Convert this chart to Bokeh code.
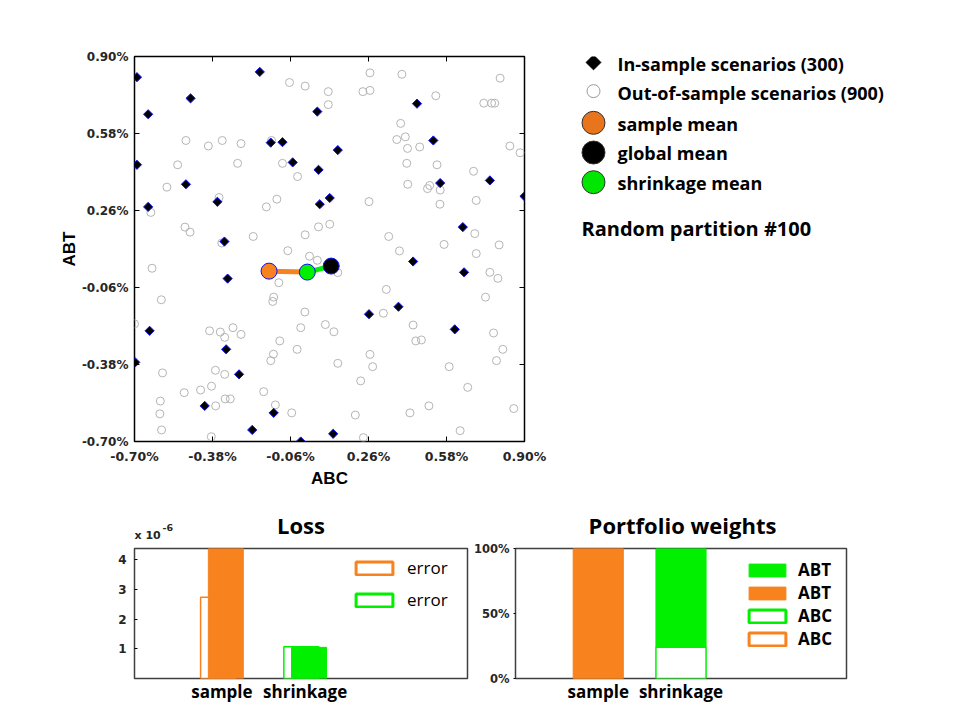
import math
from bokeh.plotting import figure
from bokeh.layouts import column, row
from bokeh.models import (FixedTicker, PrintfTickFormatter, NumeralTickFormatter, LinearAxis,
                          Legend, LegendItem, Range1d, ColumnDataSource)
from bokeh.embed import file_html
from bokeh.resources import INLINE
from bokeh.core.properties import value

# ---------------- data ----------------
ins_abc = [-0.690, -0.186, -0.470, -0.644, 0.050, -0.141, -0.093, -0.690, -0.051, 0.055,
           -0.489, -0.644, -0.360, 0.060, -0.331, 0.459, 0.134, 0.526, 0.101, 0.554,
           0.758, 0.900, 0.647, -0.318, -0.638, -0.324, -0.697, -0.271, -0.412, -0.129,
           -0.217, -0.018, 0.443, 0.652, 0.383, 0.262, 0.614, 0.115]
ins_abt = [0.814, 0.836, 0.726, 0.660, 0.671, 0.542, 0.544, 0.450, 0.460, 0.429,
           0.369, 0.275, 0.296, 0.286, 0.131, 0.704, 0.511, 0.551, 0.312, 0.374,
           0.385, 0.319, 0.191, -0.023, -0.240, -0.317, -0.371, -0.421, -0.552, -0.581,
           -0.652, -0.700, 0.048, 0.003, -0.140, -0.171, -0.234, -0.668]

oos_abc = [-0.064, 0.000, 0.095, 0.095, -0.489, -0.397, -0.340, -0.263, -0.138, -0.523,
           -0.277, -0.093, -0.031, -0.567, -0.353, -0.159, -0.116, -0.633, -0.493, -0.472,
           -0.213, 0.000, 0.055, -0.342, -0.071, 0.266, 0.397, 0.800, 0.237, 0.266,
           0.536, 0.733, 0.765, 0.778, 0.392, 0.376, 0.411, 0.420, 0.470, 0.840,
           0.882, 0.417, 0.541, 0.691, 0.421, 0.502, 0.511, 0.554, 0.262, 0.553,
           0.702, 0.101, 0.343, 0.570, 0.696, 0.796, 0.387, 0.018, 0.050, -0.628,
           -0.108, -0.590, -0.129, -0.133, -0.001, -0.700, 0.083, -0.392, -0.348, -0.296,
           -0.330, -0.263, -0.018, -0.104, -0.033, -0.130, -0.141, -0.585, -0.368, -0.330,
           -0.429, -0.384, -0.496, -0.170, -0.594, -0.328, -0.307, -0.367, -0.122, -0.596,
           -0.055, -0.589, -0.385, 0.702, 0.134, 0.758, 0.791, 0.333, 0.740, 0.321,
           0.118, 0.443, 0.454, 0.477, 0.773, 0.811, 0.266, 0.134, 0.277, 0.591,
           0.785, 0.228, 0.667, 0.508, 0.206, 0.430, 0.856, 0.239, 0.636]
oos_abt = [0.792, 0.777, 0.754, 0.700, 0.551, 0.528, 0.551, 0.538, 0.551, 0.450,
           0.456, 0.456, 0.401, 0.357, 0.314, 0.275, 0.307, 0.252, 0.191, 0.170,
           0.152, 0.159, 0.192, 0.125, 0.093, 0.832, 0.826, 0.810, 0.754, 0.759,
           0.737, 0.706, 0.706, 0.706, 0.622, 0.555, 0.566, 0.518, 0.524, 0.528,
           0.500, 0.456, 0.450, 0.423, 0.369, 0.351, 0.364, 0.345, 0.297, 0.286,
           0.302, 0.203, 0.152, 0.119, 0.164, 0.117, 0.092, 0.070, 0.053, 0.020,
           -0.040, -0.111, -0.100, -0.118, -0.162, -0.211, -0.214, -0.240, -0.245, -0.227,
           -0.267, -0.255, -0.227, -0.282, -0.317, -0.337, -0.364, -0.415, -0.404, -0.421,
           -0.486, -0.470, -0.497, -0.493, -0.532, -0.523, -0.523, -0.552, -0.548, -0.585,
           -0.581, -0.652, -0.680, 0.081, 0.002, 0.003, -0.022, -0.068, -0.100, -0.167,
           -0.244, -0.216, -0.282, -0.278, -0.249, -0.317, -0.338, -0.375, -0.389, -0.389,
           -0.364, -0.448, -0.475, -0.552, -0.590, -0.581, -0.563, -0.684, -0.655]

sample_mean = (-0.148, 0.008)
shrinkage_mean = (0.009, 0.004)
global_mean = (0.107, 0.029)

scatter_ticks = [-0.70, -0.38, -0.06, 0.26, 0.58, 0.90]

legend_labels = ["In-sample scenarios (300)", "Out-of-sample scenarios (900)",
                 "sample mean", "global mean", "shrinkage mean"]
partition_label = "Random partition #100"

chart_titles = ["Loss", "Portfolio weights"]
categories = ["sample", "shrinkage"]
loss_outlined = [2.74, 1.07]   # x 1e-6
loss_filled = [5.00, 1.05]     # x 1e-6 (sample bar runs off the top)
loss_scale = ["x 10", "-6"]
weight_abc = [0.00, 0.24]
weight_abt = [1.00, 0.76]

# ---------------- styles ----------------
ORANGE = "#f7821e"
LEG_ORANGE = "#e8741c"
GREEN = "#00f000"
LEG_GREEN = "#00e600"
BLUE = "#1010ff"
TICKC = "#262626"
ARIAL = "Liberation Sans"
TICKF = "DejaVu Sans"
SEGOE = "Open Sans"


def style_axis(ax, size="12px"):
    ax.major_label_text_font = TICKF
    ax.major_label_text_font_style = "bold"
    ax.major_label_text_font_size = size
    ax.major_label_text_color = TICKC
    ax.minor_tick_line_color = None
    ax.axis_line_color = None


def panel(width, height, x0, x1, y0, y1):
    """Figure without axes whose coordinates are page pixels (decoration panels)."""
    f = figure(width=width, height=height, output_backend="svg", toolbar_location=None,
               x_range=Range1d(x0, x1), y_range=Range1d(y1, y0),
               x_axis_location=None, y_axis_location=None, min_border=0)
    f.grid.visible = False
    f.outline_line_color = None
    return f


# ---------------- scatter ----------------
sc = figure(width=560, height=490, output_backend="svg", toolbar_location=None,
            x_range=Range1d(-0.70, 0.90), y_range=Range1d(-0.70, 0.90),
            min_border_left=134, min_border_right=36, min_border_top=56, min_border_bottom=45)
sc.grid.visible = False
sc.outline_line_color = "black"
sc.outline_line_width = 1.5
for ax in (sc.xaxis[0], sc.yaxis[0]):
    style_axis(ax, "12.5px")
    ax.ticker = FixedTicker(ticks=scatter_ticks)
    ax.formatter = PrintfTickFormatter(format="%.2f%%")
    ax.major_tick_in = 5
    ax.major_tick_out = 0
    ax.major_tick_line_color = "black"
    ax.axis_label_text_font = ARIAL
    ax.axis_label_text_font_style = "bold"
    ax.axis_label_text_font_size = "17px"
    ax.axis_label_text_color = "black"
sc.xaxis.axis_label = "ABC"
sc.yaxis.axis_label = "ABT"
sc.yaxis.major_label_text_font_size = "12px"
sc.xaxis.major_label_standoff = 7
sc.xaxis.axis_label_standoff = 2
sc.yaxis.major_label_standoff = 6
sc.yaxis.axis_label_standoff = 0
for side in ("above", "right"):
    extra = LinearAxis(ticker=FixedTicker(ticks=scatter_ticks), major_label_text_font_size="0px",
                       major_tick_in=5, major_tick_out=0, minor_tick_line_color=None,
                       axis_line_color=None, major_label_standoff=0)
    sc.add_layout(extra, side)

sc.scatter(oos_abc, oos_abt, marker="circle", size=8, fill_color=None,
           line_color="#b5b5b5", line_width=1)
sc.scatter(ins_abc, ins_abt, marker="square", angle=math.pi / 4, size=6.5,
           fill_color="black", line_color=BLUE, line_width=1)
sc.line([sample_mean[0], shrinkage_mean[0]], [sample_mean[1], shrinkage_mean[1]],
        line_color=ORANGE, line_width=5)
sc.line([shrinkage_mean[0], global_mean[0]], [shrinkage_mean[1], global_mean[1]],
        line_color=GREEN, line_width=5)
sc.scatter([global_mean[0]], [global_mean[1]], marker="circle", size=16,
           fill_color="black", line_color=BLUE, line_width=1)
sc.scatter([sample_mean[0]], [sample_mean[1]], marker="circle", size=16,
           fill_color=ORANGE, line_color=BLUE, line_width=1)
sc.scatter([shrinkage_mean[0]], [shrinkage_mean[1]], marker="circle", size=16,
           fill_color=GREEN, line_color=BLUE, line_width=1)

# ---------------- legend panel (page-pixel coordinates) ----------------
lg = figure(width=400, height=490, output_backend="svg", toolbar_location=None,
            x_range=Range1d(560, 960), y_range=Range1d(445, 56),
            x_axis_location=None, y_axis_location=None,
            min_border_left=0, min_border_right=0, min_border_top=56, min_border_bottom=45)
lg.grid.visible = False
lg.outline_line_color = None
mk_y = [62, 91, 123, 153, 183]
tx_y = [64, 93, 124, 154, 184]
lg.scatter([593], [mk_y[0]], marker="square", angle=math.pi / 4, size=10.5,
           fill_color="black", line_color="black")
lg.scatter([593], [mk_y[1]], marker="circle", size=13, fill_color="white",
           line_color="#9a9a9a", line_width=1)
lg.scatter([593, 593, 593], mk_y[2:], marker="circle", size=23,
           fill_color=[LEG_ORANGE, "black", LEG_GREEN], line_color="#333333", line_width=1)
lg.text([617] * 5, tx_y, text=legend_labels, text_font=value(SEGOE),
        text_font_style="bold", text_font_size="18px", text_baseline="middle",
        text_color="black")
lg.text([581], [230], text=[partition_label], text_font=value(SEGOE), text_font_style="bold",
        text_font_size="20px", text_baseline="middle", text_color="black")

# ---------------- title strip (page-pixel coordinates) ----------------
st = panel(960, 51, 0, 960, 490, 541)
st.text([300.5, 682], [524, 524], text=chart_titles, text_font=value(SEGOE),
        text_font_style="bold", text_font_size="22px", text_align="center",
        text_baseline="middle", text_color="black")
st.text([134], [535], text=[loss_scale[0]], text_font=value(TICKF), text_font_style="bold",
        text_font_size="11px", text_baseline="alphabetic", text_color=TICKC)
st.text([162], [527], text=[loss_scale[1]], text_font=value(TICKF), text_font_style="bold",
        text_font_size="9.5px", text_baseline="alphabetic", text_color=TICKC)

# ---------------- Loss ----------------
loss = figure(width=470, height=179, output_backend="svg", toolbar_location=None,
              x_range=Range1d(-0.05, 3.95), y_range=Range1d(0, 4.38),
              min_border_left=134, min_border_right=3, min_border_top=7, min_border_bottom=42)
loss.grid.visible = False
loss.outline_line_color = "#404040"
loss.outline_line_width = 1.5

src_lo = ColumnDataSource(dict(x=[i + 1 - 0.046 for i in range(2)], top=loss_outlined,
                               col=[ORANGE, GREEN]))
src_lf = ColumnDataSource(dict(x=[i + 1 + 0.047 for i in range(2)], top=loss_filled,
                               col=[ORANGE, GREEN]))
loss.vbar(x="x", top="top", width=0.42, bottom=0, source=src_lo, fill_color="white",
          line_color="col", line_width=1.5)
loss.vbar(x="x", top="top", width=0.42, bottom=0, source=src_lf, fill_color="col",
          line_color="col", line_width=1)
# hidden twin of the outlined bars, only used to draw thicker legend swatches
lk = loss.vbar(x="x", top="top", width=0.42, bottom=0, source=src_lo, fill_color="white",
               line_color="col", line_width=3, visible=False)
loss_leg = Legend(items=[LegendItem(label="error", renderers=[lk], index=0),
                         LegendItem(label="error", renderers=[lk], index=1)],
                  location=(217, 67), margin=0, padding=0, spacing=9,
                  glyph_width=46, glyph_height=16, label_standoff=10,
                  label_text_font=SEGOE, label_text_font_size="17px",
                  label_text_color="black", inactive_fill_alpha=0,
                  border_line_color=None, background_fill_alpha=0)
loss.add_layout(loss_leg)
style_axis(loss.yaxis[0], "12px")
loss.yaxis.ticker = FixedTicker(ticks=[1, 2, 3, 4])
loss.yaxis.major_tick_in = 3
loss.yaxis.major_tick_out = 0
loss.yaxis.major_label_standoff = 8
style_axis(loss.xaxis[0], "17px")
loss.xaxis.major_label_text_font = SEGOE
loss.xaxis.ticker = FixedTicker(ticks=[1, 2])
loss.xaxis.major_label_overrides = {1: categories[0], 2: categories[1]}
loss.xaxis.major_label_text_color = "black"
loss.xaxis.major_tick_in = 0
loss.xaxis.major_tick_out = 0
loss.xaxis.major_label_standoff = 1

# ---------------- Portfolio weights ----------------
pw = figure(width=490, height=179, output_backend="svg", toolbar_location=None,
            x_range=Range1d(0, 4), y_range=Range1d(0, 1),
            min_border_left=43, min_border_right=114, min_border_top=7, min_border_bottom=42)
pw.grid.visible = False
pw.outline_line_color = "#404040"
pw.outline_line_width = 1.5

src_abc = ColumnDataSource(dict(x=[1, 2], bottom=[0, 0], top=weight_abc, col=[ORANGE, GREEN]))
src_abt = ColumnDataSource(dict(x=[1, 2], bottom=weight_abc,
                                top=[a + b for a, b in zip(weight_abc, weight_abt)],
                                col=[ORANGE, GREEN]))
pw.vbar(x="x", bottom="bottom", top="top", width=0.606, source=src_abc,
        fill_color="white", line_color="col", line_width=1.5)
r_abt = pw.vbar(x="x", bottom="bottom", top="top", width=0.606, source=src_abt,
                fill_color="col", line_color="col", line_width=1)
pk = pw.vbar(x="x", bottom="bottom", top="top", width=0.606, source=src_abc,
             fill_color="white", line_color="col", line_width=3, visible=False)
pw_leg = Legend(items=[LegendItem(label="ABT", renderers=[r_abt], index=1),
                       LegendItem(label="ABT", renderers=[r_abt], index=0),
                       LegendItem(label="ABC", renderers=[pk], index=1),
                       LegendItem(label="ABC", renderers=[pk], index=0)],
                location=(229, 28), margin=0, padding=0, spacing=0,
                glyph_width=46, glyph_height=16, label_standoff=8,
                label_text_font=SEGOE, label_text_font_style="bold", label_text_font_size="17px",
                label_text_color="black", inactive_fill_alpha=0,
                border_line_color=None, background_fill_alpha=0)
pw.add_layout(pw_leg)
style_axis(pw.yaxis[0], "11.5px")
pw.yaxis.ticker = FixedTicker(ticks=[0, 0.5, 1])
pw.yaxis.formatter = NumeralTickFormatter(format="0%")
pw.yaxis.major_tick_in = 0
pw.yaxis.major_tick_out = 2
pw.yaxis.major_label_standoff = 4
style_axis(pw.xaxis[0], "17px")
pw.xaxis.major_label_text_font = SEGOE
pw.xaxis.ticker = FixedTicker(ticks=[1, 2])
pw.xaxis.major_label_overrides = {1: categories[0], 2: categories[1]}
pw.xaxis.major_label_text_color = "black"
pw.xaxis.major_tick_in = 0
pw.xaxis.major_tick_out = 0
pw.xaxis.major_label_standoff = 1

layout = column(row(sc, lg), st, row(loss, pw))
open("out.html", "w").write(file_html(layout, INLINE))
